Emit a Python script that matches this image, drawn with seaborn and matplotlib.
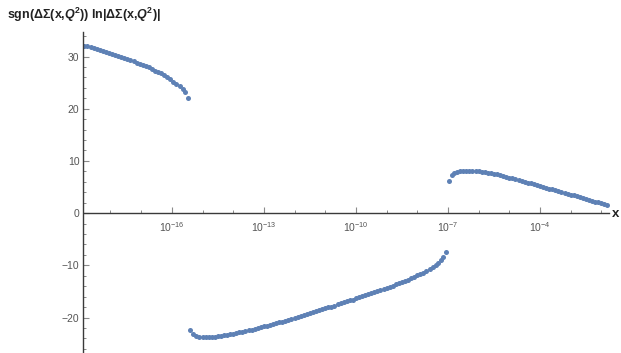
import numpy as np
import pandas as pd
import matplotlib
matplotlib.use("Agg")
import matplotlib.pyplot as plt
import matplotlib.ticker as mticker
import seaborn as sns

# log10(x) and sgn*ln|DeltaSigma|, one list per branch
seg1_logx = [-18.85, -18.75, -18.65, -18.55, -18.45, -18.35, -18.25, -18.15, -18.05, -17.95,
             -17.85, -17.75, -17.65, -17.55, -17.45, -17.35, -17.25, -17.15, -17.05, -16.95,
             -16.85, -16.75, -16.65, -16.55, -16.45, -16.35, -16.25, -16.15, -16.05, -15.95,
             -15.85, -15.75, -15.65, -15.58, -15.48]
seg1_y = [32.1, 31.95, 31.8, 31.6, 31.45, 31.25, 31.1, 30.9, 30.75, 30.55,
          30.35, 30.15, 29.95, 29.7, 29.45, 29.25, 29.05, 28.85, 28.65, 28.45,
          28.2, 27.9, 27.6, 27.3, 27.05, 26.75, 26.4, 26.0, 25.6, 25.2,
          24.8, 24.3, 23.7, 23.2, 22.1]

seg2_logx = [-15.4, -15.3, -15.2, -15.1, -15.0, -14.9, -14.8, -14.7, -14.6, -14.5,
             -14.4, -14.3, -14.2, -14.1, -14.0, -13.9, -13.8, -13.7, -13.6, -13.5,
             -13.4, -13.3, -13.2, -13.1, -13.0, -12.9, -12.8, -12.7, -12.6, -12.5,
             -12.4, -12.3, -12.2, -12.1, -12.0, -11.9, -11.8, -11.7, -11.6, -11.5,
             -11.4, -11.3, -11.2, -11.1, -11.0, -10.9, -10.8, -10.7, -10.6, -10.5,
             -10.4, -10.3, -10.2, -10.1, -10.0, -9.9, -9.8, -9.7, -9.6, -9.5,
             -9.4, -9.3, -9.2, -9.1, -9.0, -8.9, -8.8, -8.7, -8.6, -8.5,
             -8.4, -8.3, -8.2, -8.1, -8.0, -7.9, -7.8, -7.7, -7.6, -7.5,
             -7.4, -7.32, -7.23, -7.15, -7.07]
seg2_y = [-22.3, -23.1, -23.5, -23.7, -23.75, -23.75, -23.75, -23.7, -23.65, -23.6,
          -23.5, -23.4, -23.3, -23.2, -23.1, -22.95, -22.8, -22.7, -22.55, -22.45,
          -22.3, -22.15, -22.0, -21.85, -21.7, -21.55, -21.4, -21.25, -21.1, -20.95,
          -20.8, -20.6, -20.45, -20.25, -20.1, -19.9, -19.75, -19.55, -19.35, -19.15,
          -18.95, -18.8, -18.6, -18.45, -18.25, -18.05, -17.9, -17.7, -17.5, -17.3,
          -17.1, -16.9, -16.7, -16.55, -16.35, -16.15, -15.95, -15.75, -15.55, -15.35,
          -15.15, -14.95, -14.75, -14.55, -14.3, -14.1, -13.9, -13.65, -13.45, -13.2,
          -13.0, -12.75, -12.5, -12.25, -11.95, -11.7, -11.4, -11.1, -10.75, -10.35,
          -9.95, -9.5, -9.0, -8.4, -7.4]

seg3_logx = [-6.97, -6.88, -6.8, -6.7, -6.6, -6.5, -6.4, -6.3, -6.2, -6.1,
             -6.0, -5.9, -5.8, -5.7, -5.6, -5.5, -5.4, -5.3, -5.2, -5.1,
             -5.0, -4.9, -4.8, -4.7, -4.6, -4.5, -4.4, -4.3, -4.2, -4.1,
             -4.0, -3.9, -3.8, -3.7, -3.6, -3.5, -3.4, -3.3, -3.2, -3.1,
             -3.0, -2.9, -2.8, -2.7, -2.6, -2.5, -2.4, -2.3, -2.2, -2.1,
             -2.0, -1.9, -1.8]
seg3_y = [6.1, 7.3, 7.75, 7.95, 8.05, 8.1, 8.15, 8.15, 8.1, 8.05,
          8.0, 7.9, 7.8, 7.7, 7.6, 7.5, 7.4, 7.25, 7.1, 6.95,
          6.8, 6.65, 6.5, 6.35, 6.2, 6.0, 5.85, 5.7, 5.55, 5.4,
          5.2, 5.05, 4.9, 4.7, 4.55, 4.4, 4.2, 4.05, 3.9, 3.7,
          3.55, 3.4, 3.25, 3.1, 2.9, 2.75, 2.55, 2.4, 2.2, 2.05,
          1.9, 1.7, 1.55]

major_exps = [-16, -13, -10, -7, -4]
y_major = [-20, -10, 0, 10, 20, 30]

df = pd.concat([
    pd.DataFrame({"logx": seg1_logx, "y": seg1_y}),
    pd.DataFrame({"logx": seg2_logx, "y": seg2_y}),
    pd.DataFrame({"logx": seg3_logx, "y": seg3_y}),
], ignore_index=True)
df["x"] = 10.0 ** df["logx"]

sns.set_style("white")
plt.rcParams["font.family"] = ["Liberation Sans", "DejaVu Sans"]
plt.rcParams["mathtext.fontset"] = "custom"
plt.rcParams["mathtext.rm"] = "Liberation Sans"
plt.rcParams["mathtext.it"] = "Liberation Sans:italic"
plt.rcParams["mathtext.bf"] = "Liberation Sans:bold"
plt.rcParams["mathtext.bfit"] = "Liberation Sans:bold:italic"

fig = plt.figure(figsize=(6.21, 3.53), dpi=100)
ax = fig.add_axes([83.5 / 621, 0.0, 525.5 / 621, 321 / 353])

sns.scatterplot(data=df, x="x", y="y", ax=ax, color="#5E81B5", s=13,
                linewidth=0, legend=False)

ax.set_xscale("log")
ax.set_xlim(10 ** -18.88, 10 ** -1.75)
ax.set_ylim(-26.8, 34.7)

axis_col = "#3a3a3a"
tick_col = "#8a8a8a"
for side in ["top", "right"]:
    ax.spines[side].set_visible(False)
ax.spines["bottom"].set_position(("data", 0))
ax.spines["left"].set_color(axis_col)
ax.spines["bottom"].set_color(axis_col)
ax.spines["left"].set_linewidth(1.0)
ax.spines["bottom"].set_linewidth(1.0)

ax.xaxis.set_major_locator(mticker.FixedLocator([10.0 ** e for e in major_exps]))
ax.xaxis.set_major_formatter(mticker.FixedFormatter(
    [r"$\mathregular{10^{%d}}$" % e for e in major_exps]))
ax.xaxis.set_minor_locator(mticker.FixedLocator([10.0 ** e for e in range(-18, -1)]))
ax.xaxis.set_minor_formatter(mticker.NullFormatter())

ax.yaxis.set_major_locator(mticker.FixedLocator(y_major))
ax.yaxis.set_minor_locator(mticker.MultipleLocator(2))

# seaborn's white style switches the tick marks off, turn them back on
ax.tick_params(axis="both", which="both", bottom=True, left=True,
               top=False, right=False)
ax.tick_params(axis="both", which="major", direction="in", length=4.5, width=0.8,
               color=tick_col, labelcolor="#555555", labelsize=7.5, pad=3)
ax.tick_params(axis="both", which="minor", direction="in", length=2.5, width=0.7,
               color=tick_col)
ax.tick_params(axis="x", which="major", pad=5)

ax.set_xlabel("")
ax.set_ylabel("")

fig.text(7 / 621, 1 - 15 / 353,
         r"sgn(ΔΣ(x,$\mathbfit{Q}^{\mathbf{2}}$)) ln|ΔΣ(x,$\mathbfit{Q}^{\mathbf{2}}$)|",
         fontsize=9, fontweight="bold", color="#222222", ha="left", va="center")
fig.text(612 / 621, 1 - 214 / 353, "x", fontsize=9.5, fontweight="bold",
         color="#222222", ha="left", va="center")

fig.savefig("out.png", dpi=100)
